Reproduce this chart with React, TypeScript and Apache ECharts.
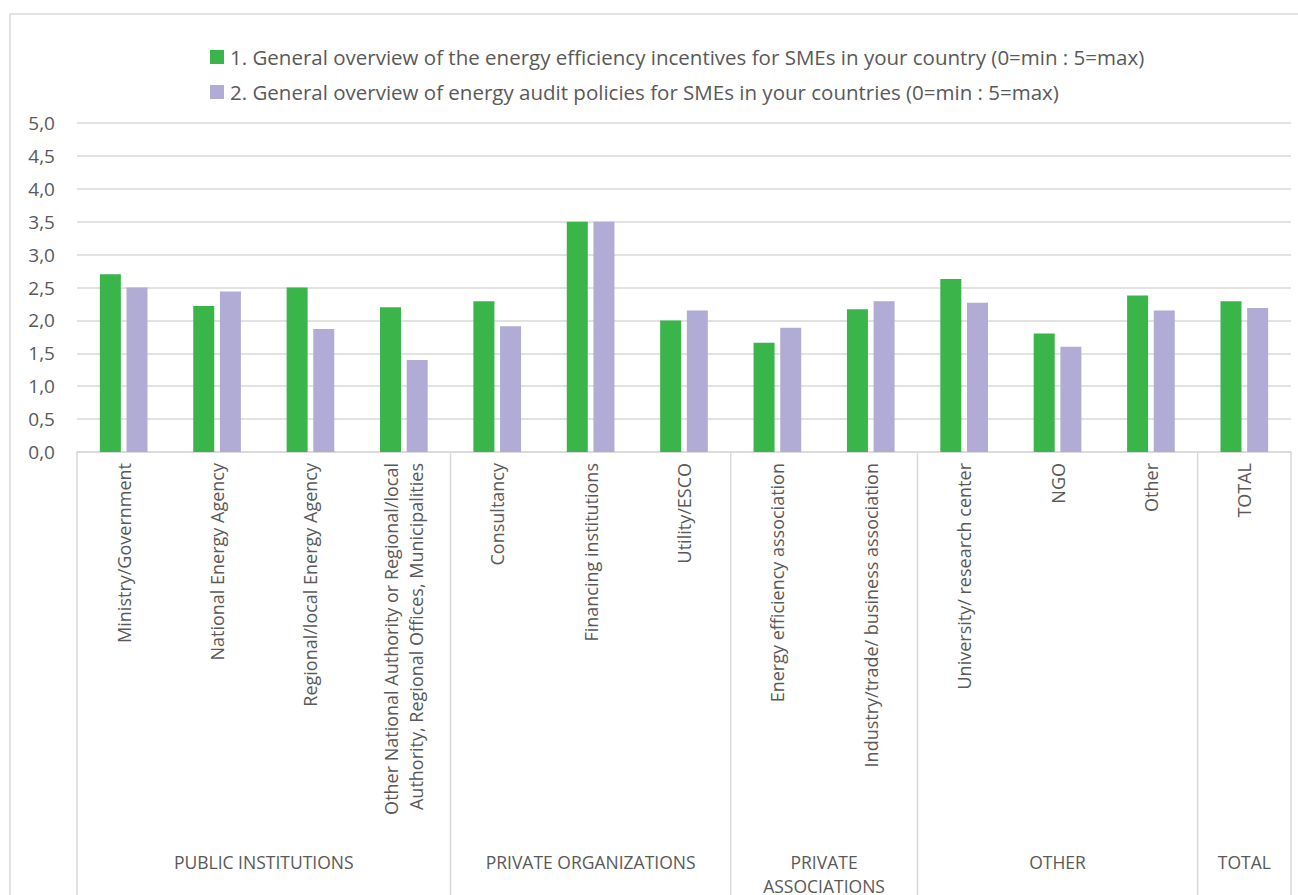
import React, { useEffect, useRef } from "react";
import * as echarts from "echarts";

const categories = [
  "Ministry/Government",
  "National Energy Agency",
  "Regional/local Energy Agency",
  "Other National Authority or Regional/local\nAuthority, Regional Offices, Municipalities",
  "Consultancy",
  "Financing institutions",
  "Utility/ESCO",
  "Energy efficiency association",
  "Industry/trade/ business association",
  "University/ research center",
  "NGO",
  "Other",
  "TOTAL",
];
const groupNames = ["PUBLIC INSTITUTIONS", "PRIVATE ORGANIZATIONS", "PRIVATE\nASSOCIATIONS", "OTHER", "TOTAL"];
const groupSizes = [4, 3, 2, 3, 1];
const seriesNames = [
  "1. General overview of the energy efficiency incentives for SMEs in your country (0=min : 5=max)",
  "2. General overview of energy audit policies for SMEs in your countries (0=min : 5=max)",
];
const incentives = [2.7, 2.22, 2.5, 2.2, 2.29, 3.5, 2.0, 1.66, 2.17, 2.63, 1.8, 2.38, 2.29];
const auditPolicies = [2.5, 2.44, 1.87, 1.4, 1.91, 3.5, 2.15, 1.89, 2.29, 2.27, 1.6, 2.15, 2.19];

const FONT = "'Open Sans', Lato, sans-serif";
const TEXT = "#595959";
const GRID = "#d9d9d9";

export default function App() {
  const ref = useRef<HTMLDivElement>(null);
  useEffect(() => {
    document.body.style.margin = "0";
    const chart = echarts.init(ref.current!, null, { renderer: "svg" });
    chart.setOption({
      animation: false,
      backgroundColor: "#fff",
      legend: {
        orient: "vertical",
        left: 210,
        top: 45,
        itemWidth: 14,
        itemHeight: 14,
        itemGap: 11,
        padding: 0,
        icon: "rect",
        textStyle: { fontFamily: FONT, fontSize: 20.5, color: TEXT, lineHeight: 24, padding: [0, 0, 0, 1] },
      },
      grid: { left: 77, right: 7, top: 123, bottom: 443 },
      xAxis: {
        type: "category",
        data: categories,
        axisLine: { lineStyle: { color: GRID, width: 1.5 } },
        axisTick: { show: false },
        axisLabel: {
          interval: 0,
          rotate: 90,
          margin: 11,
          fontFamily: FONT,
          fontSize: 18,
          color: TEXT,
          lineHeight: 25,
        },
      },
      yAxis: {
        type: "value",
        min: 0,
        max: 5,
        interval: 0.5,
        axisLine: { show: false },
        axisTick: { show: false },
        splitLine: { lineStyle: { color: GRID, width: 1.5 } },
        axisLabel: {
          margin: 22,
          fontFamily: FONT,
          fontSize: 19,
          color: TEXT,
          formatter: (v: number) => v.toFixed(1).replace(".", ","),
        },
      },
      series: [
        {
          name: seriesNames[0],
          type: "bar",
          data: incentives,
          barWidth: 21,
          barGap: "27%",
          itemStyle: { color: "#39b54a" },
        },
        {
          name: seriesNames[1],
          type: "bar",
          data: auditPolicies,
          barWidth: 21,
          itemStyle: { color: "#b1acd6" },
        },
      ],
    });

    // group separators and labels, positioned through the category axis
    const x0 = chart.convertToPixel({ xAxisIndex: 0 }, categories[0]) as number;
    const x1 = chart.convertToPixel({ xAxisIndex: 0 }, categories[1]) as number;
    const band = x1 - x0;
    const baseY = chart.convertToPixel({ yAxisIndex: 0 }, 0) as number;
    const graphics: any[] = [
      {
        type: "rect",
        shape: { x: 10, y: 14, width: 1400, height: 1000 },
        style: { fill: "none", stroke: GRID, lineWidth: 1.5 },
        silent: true,
      },
    ];
    let start = 0;
    const bounds: number[] = [x0 - band / 2];
    groupSizes.forEach((n, gi) => {
      const left = x0 + (start - 0.5) * band;
      const right = x0 + (start + n - 0.5) * band;
      bounds.push(right);
      graphics.push({
        type: "text",
        x: (left + right) / 2,
        y: 850,
        style: {
          text: groupNames[gi],
          fill: TEXT,
          font: `17.5px ${FONT}`,
          align: "center",
          verticalAlign: "top",
          lineHeight: 24,
        },
        silent: true,
      });
      start += n;
    });
    bounds.forEach((bx) => {
      graphics.push({
        type: "line",
        shape: { x1: bx, y1: baseY, x2: bx, y2: 900 },
        style: { stroke: GRID, lineWidth: 1.5 },
        silent: true,
      });
    });
    chart.setOption({ graphic: graphics });
    return () => chart.dispose();
  }, []);
  return <div ref={ref} style={{ width: 1298, height: 895 }} />;
}
